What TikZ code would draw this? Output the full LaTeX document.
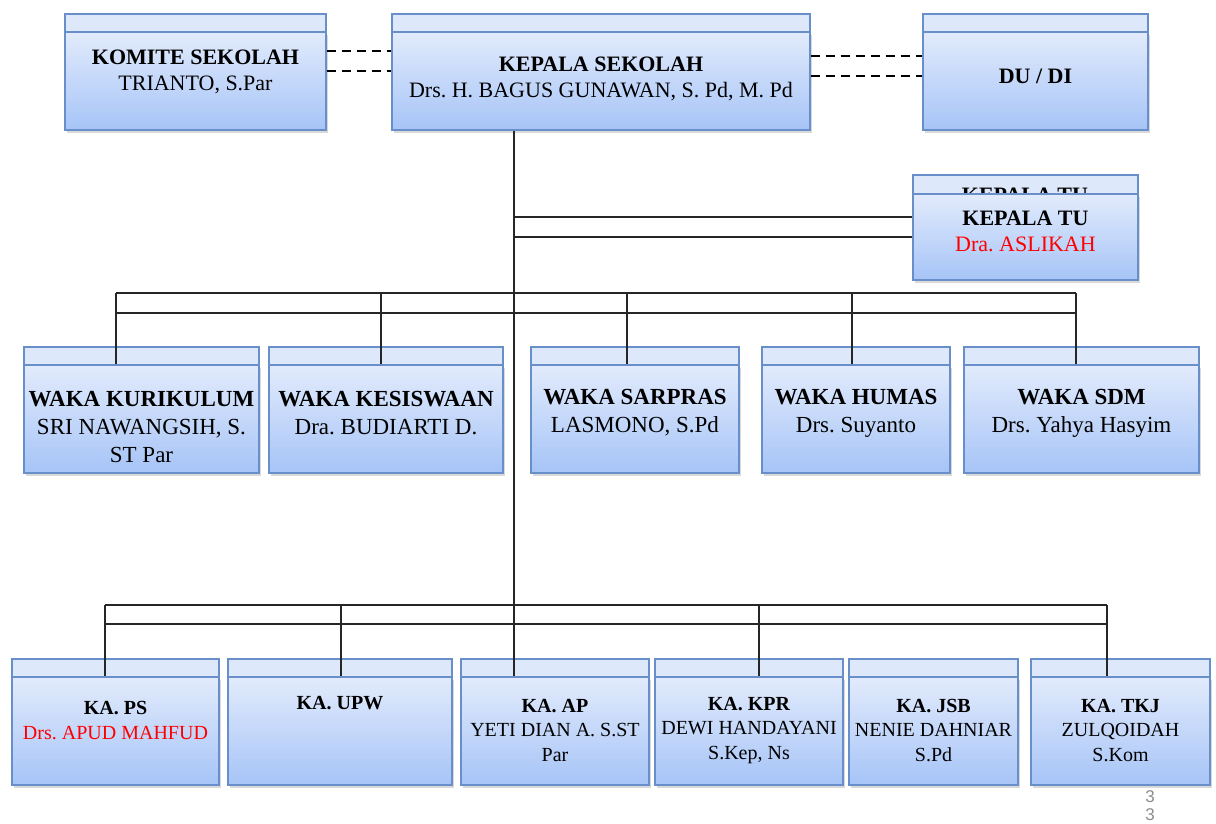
\documentclass[tikz,border=0pt]{standalone}
\usepackage{fontspec}
\setmainfont{Liberation Serif}
\newfontfamily\numfont{Liberation Sans}
\usepackage{tikz}
\usetikzlibrary{shadows}
\frenchspacing
\definecolor{boxline}{RGB}{104,143,201}
\definecolor{boxtop}{RGB}{226,235,252}
\definecolor{boxbot}{RGB}{166,196,247}
\definecolor{boxback}{RGB}{221,232,251}
% back strip + front box, coordinates in px: name, x1, y1, x2, y2
\newcommand\orgbox[5]{%
    \draw[back box] (#2,#3-18) rectangle (#4,#5-18);
    \node[front box, minimum width=#4pt-#2pt, minimum height=#5pt-#3pt] (#1) at ({(#2+#4)/2},{(#3+#5)/2}) {};
}

\begin{document}
\begin{tikzpicture}[x=1pt,y=-1pt,
back box/.style={draw=boxline, line width=1.2pt, fill=boxback},
front box/.style={draw=boxline, line width=1.2pt, top color=boxtop, bottom color=boxbot, inner sep=0pt,
    drop shadow={shadow xshift=1.5pt, shadow yshift=-2.5pt, opacity=0.3}},
conn/.style={draw=black!85, line width=1.3pt},
dash line/.style={draw=black, line width=2.6pt, dash pattern=on 9pt off 6pt},
top text/.style={align=center, font=\fontsize{22}{26}\selectfont},
waka text/.style={align=center, font=\fontsize{23}{28}\selectfont},
ka text/.style={align=center, font=\fontsize{20}{24.5}\selectfont}]
\useasboundingbox (0,0) rectangle (1216,823);

%top row
\orgbox{komite}{65}{32}{326}{130}
\orgbox{kepsek}{392}{32}{810}{130}
\orgbox{dudi}{923}{32}{1148}{130}

%kepala tu (back copy shows through)
\draw[back box] (913,175) rectangle (1138,261);
\begin{scope}
    \clip (913,175) rectangle (1138,194);
    \node[top text, font=\bfseries\fontsize{22}{26}\selectfont] (tu-back) at (1025,195) {KEPALA TU};
\end{scope}
\node[front box, minimum width=225pt, minimum height=86pt] (tu) at (1025.5,237) {};

%waka row
\orgbox{kur}{24}{365}{259}{473}
\orgbox{kes}{269}{365}{503}{473}
\orgbox{sar}{531}{365}{739}{473}
\orgbox{hum}{762}{365}{950}{473}
\orgbox{sdm}{964}{365}{1199}{473}

%ka row
\orgbox{ps}{12}{677}{219}{785}
\orgbox{upw}{228}{677}{452}{785}
\orgbox{ap}{461}{677}{649}{785}
\orgbox{kpr}{655}{677}{843}{785}
\orgbox{jsb}{849}{677}{1018}{785}
\orgbox{tkj}{1031}{677}{1210}{785}

%dashed links
\draw[dash line] ([yshift=30]komite.east) -- ([yshift=30]komite.east -| kepsek.west);
\draw[dash line] ([yshift=10]komite.east) -- ([yshift=10]komite.east -| kepsek.west);
\draw[dash line] ([yshift=25]kepsek.east) -- ([yshift=25]kepsek.east -| dudi.west);
\draw[dash line] ([yshift=5]kepsek.east) -- ([yshift=5]kepsek.east -| dudi.west);

%trunk
\coordinate (trunk) at (514,0);
\draw[conn] (kepsek.south -| trunk) -- (trunk |- ap.north);

%to kepala tu
\coordinate (tu-j) at (514,217);
\coordinate (tu-k) at (514,237);
\draw[conn] (tu-j) -- (tu-j -| tu.west);
\draw[conn] (tu-k) -- (tu-k -| tu.west);

%waka bus
\foreach \n/\x in {kur/116, kes/381, sar/627, hum/852, sdm/1076}{
    \coordinate (\n-j) at (\x,293);
    \draw[conn] (\n-j) -- (\n-j |- \n.north);
}
\draw[conn] (kur-j) -- (sdm-j);
\draw[conn] ([yshift=-20]kur-j) -- ([yshift=-20]sdm-j);

%ka bus
\foreach \n/\x in {ps/105, upw/341, kpr/759, tkj/1107}{
    \coordinate (\n-j) at (\x,605);
    \draw[conn] (\n-j) -- (\n-j |- \n.north);
}
\draw[conn] (ps-j) -- (tkj-j);
\draw[conn] ([yshift=-19]ps-j) -- ([yshift=-19]tkj-j);

%texts
\node[top text] (komite-t) at ([yshift=-41]komite.north) {\textbf{KOMITE SEKOLAH}\\TRIANTO, S.Par};
\node[top text] (kepsek-t) at ([yshift=-48]kepsek.north) {\textbf{KEPALA SEKOLAH}\\Drs. H. BAGUS GUNAWAN, S. Pd, M. Pd};
\node[top text] (dudi-t) at ([yshift=-45]dudi.north) {\textbf{DU / DI}};
\node[top text] (tu-t) at ([yshift=-37.5]tu.north) {\textbf{KEPALA TU}\\\textcolor{red}{Dra. ASLIKAH}};

\node[waka text] (kur-t) at ([yshift=-62.5]kur.north) {\textbf{WAKA KURIKULUM}\\SRI NAWANGSIH, S.\\ST Par};
\node[waka text] (kes-t) at ([yshift=-48.5]kes.north) {\textbf{WAKA KESISWAAN}\\Dra. BUDIARTI D.};
\node[waka text] (sar-t) at ([yshift=-48.5]sar.north) {\textbf{WAKA SARPRAS}\\LASMONO, S.Pd};
\node[waka text] (hum-t) at ([yshift=-48.5]hum.north) {\textbf{WAKA HUMAS}\\Drs. Suyanto};
\node[waka text] (sdm-t) at ([yshift=-48.5]sdm.north) {\textbf{WAKA SDM}\\Drs. Yahya Hasyim};

\node[ka text] (ps-t) at ([yshift=-44]ps.north) {\textbf{KA. PS}\\\textcolor{red}{Drs. APUD MAHFUD}};
\node[ka text] (upw-t) at ([yshift=-27]upw.north) {\textbf{KA. UPW}};
\node[ka text] (ap-t) at ([yshift=-54]ap.north) {\textbf{KA. AP}\\YETI DIAN A. S.ST\\Par};
\node[ka text] (kpr-t) at ([yshift=-54]kpr.north) {\textbf{KA. KPR}\\DEWI HANDAYANI\\S.Kep, Ns};
\node[ka text] (jsb-t) at ([yshift=-54]jsb.north) {\textbf{KA. JSB}\\NENIE DAHNIAR\\S.Pd};
\node[ka text] (tkj-t) at ([yshift=-54]tkj.north) {\textbf{KA. TKJ}\\ZULQOIDAH\\S.Kom};

\node[align=center, text=black!45, font=\numfont\fontsize{17}{18}\selectfont] (pgnum) at (1150,806) {3\\3};
\end{tikzpicture}
\end{document}
